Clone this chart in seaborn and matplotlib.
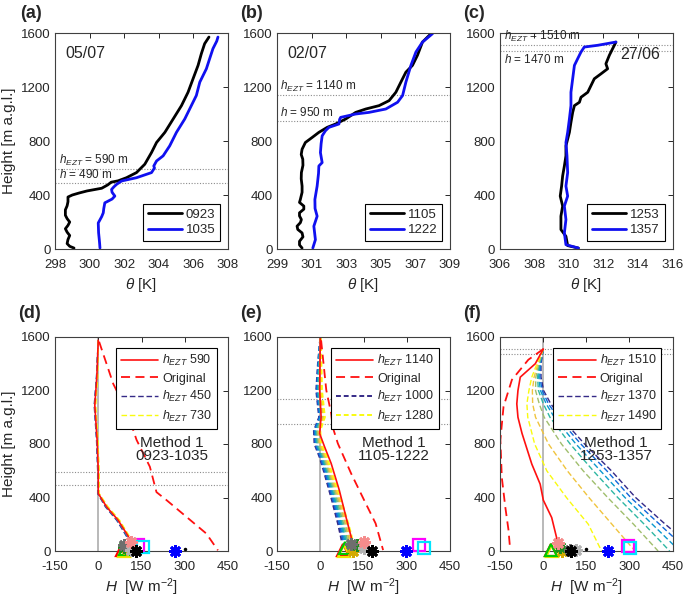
import numpy as np
import matplotlib
matplotlib.use("Agg")
import matplotlib.pyplot as plt
from matplotlib.colors import LinearSegmentedColormap
import seaborn as sns

# ---- potential temperature profiles (top row) ----
A_Z_0923 = [7, 20, 40, 70, 100, 125, 150, 175, 200, 225, 250, 290, 320, 350, 385, 400, 415, 430, 450, 475,
            495, 505, 528, 566, 628, 715, 789, 864, 963, 1062, 1161, 1261, 1360, 1447, 1521, 1570]
A_T_0923 = [299.1, 298.85, 298.7, 298.75, 298.85, 298.7, 298.6, 298.75, 298.85, 298.7, 298.6, 298.6, 298.7,
            298.75, 298.75, 299.0, 299.4, 299.85, 300.7, 301.05, 301.25, 301.65, 302.13, 302.71, 303.19,
            303.58, 303.87, 304.35, 304.83, 305.31, 305.69, 305.98, 306.27, 306.46, 306.65, 306.9]
A_Z_1035 = [7, 40, 69, 120, 193, 240, 268, 300, 342, 370, 392, 420, 441, 460, 479, 504, 528, 566, 600, 615,
            652, 690, 764, 864, 963, 1062, 1137, 1236, 1335, 1410, 1484, 1540, 1570]
A_T_1035 = [300.6, 300.58, 300.56, 300.52, 300.5, 300.7, 300.79, 300.82, 300.88, 301.3, 301.46, 301.3, 301.27,
            301.4, 301.56, 301.85, 302.71, 303.58, 303.75, 303.71, 303.87, 304.25, 304.63, 305.02, 305.5,
            305.88, 306.17, 306.37, 306.75, 306.94, 307.13, 307.35, 307.42]

B_Z_1105 = [7, 30, 57, 90, 119, 145, 169, 195, 218, 245, 268, 295, 318, 345, 367, 420, 466, 520, 566, 620,
            665, 700, 739, 789, 826, 864, 901, 926, 963, 1012, 1037, 1062, 1099, 1161, 1236, 1310, 1360, 1435,
            1533, 1595]
B_T_1105 = [300.45, 300.3, 300.3, 300.5, 300.45, 300.2, 300.16, 300.35, 300.41, 300.3, 300.3, 300.55, 300.55,
            300.3, 300.35, 300.45, 300.45, 300.4, 300.41, 300.5, 300.49, 300.4, 300.45, 300.64, 301.03, 301.42,
            301.9, 302.39, 302.97, 303.55, 304.13, 304.9, 305.48, 305.87, 306.16, 306.45, 306.83, 307.12,
            307.41, 307.9]
B_Z_1222 = [7, 69, 169, 243, 300, 367, 466, 560, 615, 640, 714, 780, 838, 876, 901, 926, 960, 975, 1000, 1012,
            1037, 1087, 1137, 1236, 1360, 1459, 1533, 1595]
B_T_1222 = [301.07, 301.22, 301.13, 301.32, 301.2, 301.19, 301.32, 301.4, 301.42, 301.61, 301.51, 301.55,
            301.61, 301.8, 302.0, 302.58, 302.62, 302.68, 303.55, 304.32, 305.29, 305.97, 306.26, 306.45,
            306.74, 307.03, 307.41, 307.99]

C_Z_1253 = [7, 25, 94, 144, 243, 318, 392, 466, 541, 615, 690, 764, 864, 938, 1012, 1062, 1087, 1124, 1161,
            1261, 1298, 1335, 1372, 1435, 1533]
C_T_1253 = [310.56, 309.94, 309.84, 309.55, 309.55, 309.65, 309.51, 309.59, 309.65, 309.75, 309.84, 309.84,
            310.04, 310.13, 310.23, 310.33, 310.62, 310.71, 311.1, 311.48, 311.87, 312.25, 312.15, 312.35, 312.73]
C_Z_1357 = [7, 32, 119, 218, 318, 392, 466, 566, 690, 789, 864, 963, 1062, 1161, 1261, 1360, 1410, 1459, 1496,
            1509, 1533]
C_T_1357 = [310.56, 309.84, 309.75, 309.84, 309.75, 309.94, 309.84, 309.94, 309.9, 309.84, 309.94, 310.04,
            310.13, 310.13, 310.23, 310.33, 310.52, 310.71, 310.9, 311.68, 312.73]

# ---- heat flux profiles (bottom row) ----
D_Z_SOL = [1575, 1300, 1090, 830, 600, 430, 330, 230, 110, 55]
D_H_SOL = [0, -5, -12, -4, 0, 0, 29, 69, 104, 115]
D_Z_ORIG = [1565, 1250, 1050, 830, 630, 440, 380, 255, 130, 5]
D_H_ORIG = [3, 52, 98, 133, 179, 202, 237, 306, 375, 415]
D_ENS_HEZT = [450, 506, 562, 618, 674, 730]
D_Z_ENS = [1575, 1300, 1090, 830, 600, 430, 330, 230, 110, 55]
D_H_ENS = [
    [0, -6, -14, -6, -2, -2, 25, 64, 98, 108],
    [0, -6, -13, -5, -1, -1, 27, 66, 100, 110],
    [0, -5, -12, -4, 0, 0, 28, 68, 102, 112],
    [0, -4, -11, -3, 1, 1, 30, 70, 104, 114],
    [0, -3, -10, -2, 2, 2, 32, 72, 106, 116],
    [0, -2, -9, -1, 3, 3, 34, 74, 108, 118],
]

E_Z_SOL = [1588, 1202, 1003, 878, 779, 654, 455, 256, 107, 32]
E_H_SOL = [0, -2, 3, -2, 15, 38, 66, 89, 107, 112]
E_Z_ORIG = [1575, 1202, 1028, 928, 804, 580, 381, 206, 7]
E_H_ORIG = [3, 21, 38, 43, 61, 107, 152, 192, 218]
E_ENS_HEZT = [1000, 1040, 1080, 1120, 1160, 1200, 1240, 1280]
E_Z_ENS = [1590, 1400, 1200, 1000, 900, 800, 700, 600, 400, 200, 60]
E_H_ENS = [
    [0, -8, -14, -4, -22, -20, -2, 12, 38, 62, 76],
    [0, -7, -12, -2, -20, -17, 1, 15, 42, 67, 81],
    [0, -5, -9, 1, -17, -14, 5, 19, 46, 72, 86],
    [0, -4, -7, 3, -14, -11, 8, 22, 50, 76, 91],
    [1, -2, -4, 6, -11, -8, 12, 26, 55, 81, 96],
    [1, 0, -1, 9, -8, -4, 16, 30, 60, 87, 102],
    [1, 2, 3, 12, -4, 0, 20, 34, 65, 92, 108],
    [2, 4, 6, 16, 0, 4, 24, 38, 70, 98, 115],
]

F_Z_SOL = [1510, 1400, 1300, 1200, 1100, 1000, 880, 650, 500, 380, 250, 100, 30]
F_H_SOL = [2, -26, -78, -86, -90, -86, -72, -38, -9, 2, 31, 48, 52]
F_Z_ORIG = [1510, 1430, 1280, 1080, 830, 550, 330, 160, 10]
F_H_ORIG = [2, -50, -107, -136, -147, -142, -130, -119, -113]
F_ENS_HEZT = [1370, 1390, 1410, 1430, 1450, 1470, 1490]
F_Z_ENS = [1510, 1400, 1300, 1200, 1100, 1000, 800, 600, 400, 200, 0]
F_H_ENS = [
    [2, -6, -6, 3, 28, 62, 145, 238, 322, 425, 536],
    [2, -8, -10, -2, 20, 52, 132, 222, 305, 405, 505],
    [2, -10, -14, -8, 12, 40, 115, 200, 285, 380, 475],
    [2, -12, -18, -15, 2, 25, 95, 175, 260, 352, 440],
    [2, -14, -24, -25, -12, 5, 65, 140, 225, 315, 400],
    [2, -17, -30, -36, -35, -25, 20, 85, 160, 240, 320],
    [2, -20, -38, -48, -55, -52, -28, 14, 82, 158, 204],
]

# surface observations (same instrument order in every panel)
D_OBS_H = [82, 88, 92, 100, 88, 90, 112, 112, 130, 265, 138, 156, 300]
D_OBS_Z = [8, 0, 12, 15, 30, 45, 10, 70, 0, 0, 45, 30, 15]
E_OBS_H = [80, 84, 87, 115, 129, 107, 152, 152, 181, 298, 344, 359, 185]
E_OBS_Z = [5, 0, 20, 0, 45, 50, 20, 70, 0, 0, 45, 25, 10]
F_OBS_H = [27, 33, 30, 68, 61, 95, 114, 53, 99, 226, 295, 301, 151]
F_OBS_Z = [10, 0, 10, 0, 30, 10, 5, 57, 0, 0, 37, 20, 15]

AST = (8, 2, 0)
OBS_STYLE = [("^", "#FF0000"), ("^", "#F2E600"), ("^", "#00C800"), (AST, "#D4AA00"), (AST, "#1E8C1E"),
             (AST, "#6E6E6E"), (AST, "#B4B4B4"), (AST, "#F58C8C"), (AST, "#000000"), (AST, "#0000FF"),
             ("s", "#FF00FF"), ("s", "#00E5FF"), (".", "#000000")]

sns.set_theme(style="white")
plt.rcParams["font.family"] = ["Liberation Sans", "DejaVu Sans"]
plt.rcParams["mathtext.fontset"] = "custom"
plt.rcParams["mathtext.rm"] = "Liberation Sans"
plt.rcParams["mathtext.it"] = "Liberation Sans:italic"
plt.rcParams["axes.unicode_minus"] = False

parula = LinearSegmentedColormap.from_list(
    "parula", ["#352A87", "#0F5CDD", "#1481D6", "#06A4CA", "#2EB7A4", "#87BF77", "#D1BB59", "#FEC832", "#F9FB0E"])

fig = plt.figure(figsize=(6.85, 6.02), dpi=100)
W = 173 / 685
lefts = [55 / 685, 277 / 685, 499.5 / 685]
top_rect = (1 - 249 / 602, 216 / 602)
bot_rect = (1 - 551 / 602, 214 / 602)


def style_axes(ax):
    ax.set_ylim(0, 1600)
    ax.set_yticks([0, 400, 800, 1200, 1600])
    ax.tick_params(direction="in", top=True, right=True, length=3.5, width=0.7,
                   labelsize=9.5, colors="0.15", pad=3)
    ax.tick_params(axis="x", pad=7)
    for s in ax.spines.values():
        s.set_color("0.25")
        s.set_linewidth(0.8)
    ax.grid(False)


def draw_theta(ax, z1, t1, z2, t2, lab1, lab2, xlim, xticks):
    sns.lineplot(x=t1, y=z1, sort=False, estimator=None, color="black", lw=2.0, label=lab1, ax=ax)
    sns.lineplot(x=t2, y=z2, sort=False, estimator=None, color="#1010F0", lw=2.0, label=lab2, ax=ax)
    ax.set_xlim(*xlim)
    ax.set_xticks(xticks)
    style_axes(ax)
    ax.set_xlabel(r"$\theta$ [K]", fontsize=11, labelpad=4)
    ax.legend(loc="lower right", fontsize=9.5, frameon=True, fancybox=False, edgecolor="black",
              framealpha=1, handlelength=2.6, borderpad=0.35, labelspacing=0.25, handletextpad=0.3,
              borderaxespad=0.6).get_frame().set_linewidth(0.8)


def draw_flux(ax, sz, sh, oz, oh, ez, eh, hezt, sol_lab, obs_h, obs_z, method, ens_lw, dash):
    cols = parula(np.linspace(0, 1, len(eh)))
    ens_handles = []
    for k, vals in enumerate(eh):
        sns.lineplot(x=vals, y=ez, sort=False, estimator=None, color=cols[k], lw=ens_lw,
                     linestyle=(0, dash), ax=ax)
        ens_handles.append(ax.lines[-1])
    sns.lineplot(x=oh, y=oz, sort=False, estimator=None, color="#FF1010", lw=1.3,
                 linestyle=(0, (5, 3)), ax=ax)
    h_orig = ax.lines[-1]
    sns.lineplot(x=sh, y=sz, sort=False, estimator=None, color="#FF1010", lw=1.2, ax=ax)
    h_sol = ax.lines[-1]
    for (mk, c), x, y in zip(OBS_STYLE, obs_h, obs_z):
        if mk == "s" or mk == "^":
            ax.plot(x, y, marker=mk, ms=8 if mk == "s" else 9, mfc="none", mec=c, mew=1.6,
                    ls="none", clip_on=False, zorder=5)
        elif mk == ".":
            ax.plot(x, y, marker=".", ms=3, color=c, ls="none", clip_on=False, zorder=5)
        else:
            ax.plot(x, y, marker=mk, ms=9, mec=c, mew=2.0, ls="none", clip_on=False, zorder=6)
    ax.axvline(0, color="0.7", lw=1.3, zorder=0)
    ax.set_xlim(-150, 450)
    ax.set_xticks([-150, 0, 150, 300, 450])
    style_axes(ax)
    ax.set_xlabel(r"$H$  [W m$^{-2}$]", fontsize=11, labelpad=3)
    ax.text(255, 760, method, ha="center", va="center", fontsize=11, linespacing=0.95)
    leg = ax.legend([h_sol, h_orig, ens_handles[0], ens_handles[-1]],
                    [r"$h_{EZT}$ " + str(sol_lab), "Original",
                     r"$h_{EZT}$ " + str(hezt[0]), r"$h_{EZT}$ " + str(hezt[-1])],
                    loc="upper right", fontsize=9, frameon=True, fancybox=False, edgecolor="black",
                    framealpha=1, handlelength=3.0, borderpad=0.4, labelspacing=0.35,
                    handletextpad=0.3, borderaxespad=0.9)
    leg.get_frame().set_linewidth(0.8)


def hlines(ax, levels):
    for lv in levels:
        ax.axhline(lv, color="0.55", lw=0.8, ls=(0, (1, 1.5)), zorder=0)


axes_top = [fig.add_axes([l, top_rect[0], W, top_rect[1]]) for l in lefts]
axes_bot = [fig.add_axes([l, bot_rect[0], W, bot_rect[1]]) for l in lefts]

a, b, c = axes_top
draw_theta(a, A_Z_0923, A_T_0923, A_Z_1035, A_T_1035, "0923", "1035", (298, 308), [298, 300, 302, 304, 306, 308])
hlines(a, [590, 490])
a.text(298.25, 600, r"$h_{EZT}$ = 590 m", fontsize=8.5, va="bottom")
a.text(298.25, 500, r"$h$ = 490 m", fontsize=8.5, va="bottom")
a.text(298.6, 1450, "05/07", fontsize=11.5, va="center")
a.set_ylabel("Height [m a.g.l.]", fontsize=11)

draw_theta(b, B_Z_1105, B_T_1105, B_Z_1222, B_T_1222, "1105", "1222", (299, 309), [299, 301, 303, 305, 307, 309])
hlines(b, [1140, 950])
b.text(299.2, 1150, r"$h_{EZT}$ = 1140 m", fontsize=8.5, va="bottom")
b.text(299.2, 960, r"$h$ = 950 m", fontsize=8.5, va="bottom")
b.text(299.6, 1450, "02/07", fontsize=11.5, va="center")
b.set_ylabel("")

draw_theta(c, C_Z_1253, C_T_1253, C_Z_1357, C_T_1357, "1253", "1357", (306, 316), [306, 308, 310, 312, 314, 316])
hlines(c, [1510, 1470])
c.text(306.25, 1515, r"$h_{EZT}$ = 1510 m", fontsize=8.5, va="bottom")
c.text(306.25, 1455, r"$h$ = 1470 m", fontsize=8.5, va="top")
c.text(313.0, 1440, "27/06", fontsize=11.5, va="center")
c.set_ylabel("")

d, e, f = axes_bot
draw_flux(d, D_Z_SOL, D_H_SOL, D_Z_ORIG, D_H_ORIG, D_Z_ENS, D_H_ENS, D_ENS_HEZT, 590,
          D_OBS_H, D_OBS_Z, "Method 1\n0923-1035", 1.0, (4, 2))
hlines(d, [590, 490])
d.set_ylabel("Height [m a.g.l.]", fontsize=11)

draw_flux(e, E_Z_SOL, E_H_SOL, E_Z_ORIG, E_H_ORIG, E_Z_ENS, E_H_ENS, E_ENS_HEZT, 1140,
          E_OBS_H, E_OBS_Z, "Method 1\n1105-1222", 1.4, (2.5, 1.5))
hlines(e, [1140, 950])
e.set_ylabel("")

draw_flux(f, F_Z_SOL, F_H_SOL, F_Z_ORIG, F_H_ORIG, F_Z_ENS, F_H_ENS, F_ENS_HEZT, 1510,
          F_OBS_H, F_OBS_Z, "Method 1\n1253-1357", 1.0, (4, 2))
hlines(f, [1510, 1470])
f.set_ylabel("")

for lab, x, y in [("(a)", 20, 13), ("(b)", 240, 13), ("(c)", 463, 13),
                  ("(d)", 18, 314), ("(e)", 240, 314), ("(f)", 463, 314)]:
    fig.text(x / 685, 1 - y / 602, lab, fontsize=13, fontweight="bold", va="center", ha="left")

fig.savefig("out.png", dpi=100)
